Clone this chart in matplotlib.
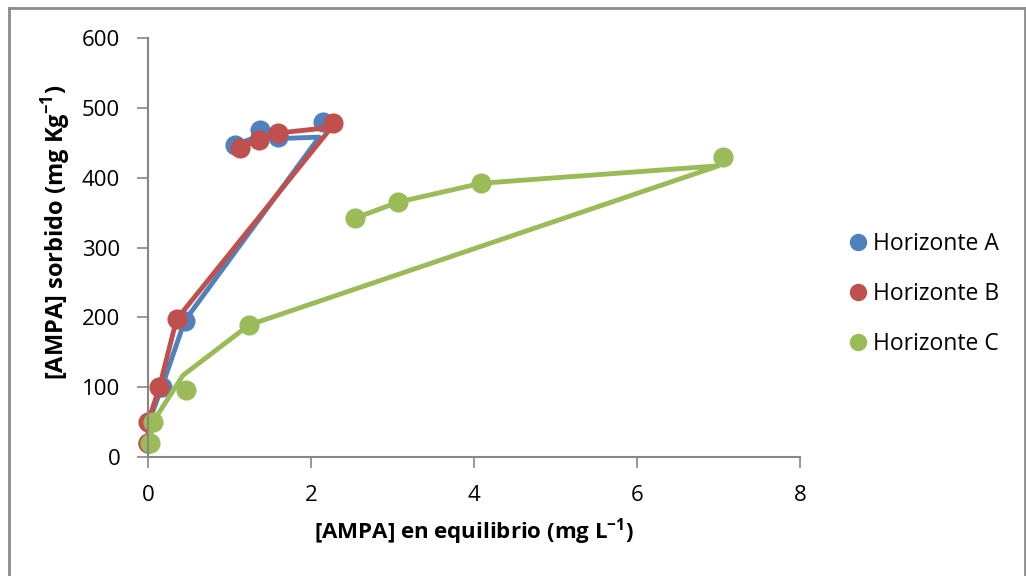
import matplotlib.pyplot as plt
from matplotlib.lines import Line2D

plt.rcParams['font.family'] = ['Open Sans', 'DejaVu Sans']

# measured points (equilibrium conc. vs sorbed amount)
x_a = [0.0, 0.01, 0.17, 0.45, 2.15, 1.60, 1.37, 1.07]
y_a = [20, 50, 100, 195, 480, 458, 468, 447]
x_b = [0.0, 0.0, 0.14, 0.35, 2.27, 1.60, 1.36, 1.13]
y_b = [20, 50, 100, 197, 478, 464, 454, 443]
x_c = [0.02, 0.06, 0.47, 1.24, 7.06, 4.09, 3.07, 2.54]
y_c = [20, 50, 96, 189, 430, 392, 365, 342]

# connecting lines
line_x_a = [0.0, 0.01, 0.17, 0.45, 2.10, 1.60, 1.37, 1.07]
line_y_a = [20, 50, 100, 195, 458, 456, 460, 447]
line_x_b = [0.0, 0.0, 0.14, 0.35, 2.25, 1.60, 1.36, 1.13]
line_y_b = [20, 50, 100, 197, 472, 464, 454, 443]
line_x_c = [0.02, 0.06, 0.43, 1.24, 7.00, 4.09, 3.07, 2.54]
line_y_c = [20, 50, 117, 189, 417, 392, 365, 342]

labels = ['Horizonte A', 'Horizonte B', 'Horizonte C']
colors = ['#4F81BD', '#C0504D', '#9BBB59']
x_ticks = [0, 2, 4, 6, 8]
y_ticks = [0, 100, 200, 300, 400, 500, 600]

fig = plt.figure(figsize=(10.26, 5.76), dpi=100)
ax = fig.add_axes([148 / 1026, 1 - 457 / 576, 652 / 1026, 419 / 576])

series = [
    (line_x_a, line_y_a, x_a, y_a),
    (line_x_b, line_y_b, x_b, y_b),
    (line_x_c, line_y_c, x_c, y_c),
]
handles = []
for (lx, ly, px, py), lab, col in zip(series, labels, colors):
    ax.plot(lx, ly, color=col, lw=3.5, solid_capstyle='round',
            solid_joinstyle='round', clip_on=False)
    ax.plot(px, py, 'o', color=col, ms=13.5, mec=col, clip_on=False)
    handles.append(Line2D([], [], marker='o', ls='none', color=col, ms=11.5))

ax.set_xlim(0, 8)
ax.set_ylim(0, 600)
ax.set_xticks(x_ticks)
ax.set_yticks(y_ticks)
ax.tick_params(axis='both', direction='out', length=8, width=1.2,
               color='#868686', labelsize=16, pad=12)

for side in ['top', 'right']:
    ax.spines[side].set_visible(False)
for side in ['left', 'bottom']:
    ax.spines[side].set_color('#868686')
    ax.spines[side].set_linewidth(1.5)

ax.set_xlabel('[AMPA] en equilibrio (mg L$^{\\mathregular{-1}}$)',
              fontsize=16, fontweight='bold')
ax.set_ylabel('[AMPA] sorbido (mg Kg$^{\\mathregular{-1}}$)',
              fontsize=17, fontweight='bold')
ax.xaxis.set_label_coords(0.5, -0.14)
ax.yaxis.set_label_coords(-0.115, 0.535)

leg = fig.legend(handles, labels, loc='center left',
                 bbox_to_anchor=(828 / 1026, 1 - 294 / 576),
                 frameon=False, fontsize=16.5, handlelength=0.8,
                 handletextpad=0.25, labelspacing=1.12)

# chart area border
border = dict(color='#8c8c8c', lw=2, transform=fig.transFigure)
fig.add_artist(Line2D([8.5 / 1026, 8.5 / 1026], [0, 1 - 7.5 / 576], **border))
fig.add_artist(Line2D([8.5 / 1026, 1025 / 1026], [1 - 7.5 / 576, 1 - 7.5 / 576], **border))
fig.add_artist(Line2D([1025 / 1026, 1025 / 1026], [0, 1 - 7.5 / 576], **border))

fig.savefig('out.png', dpi=100)
